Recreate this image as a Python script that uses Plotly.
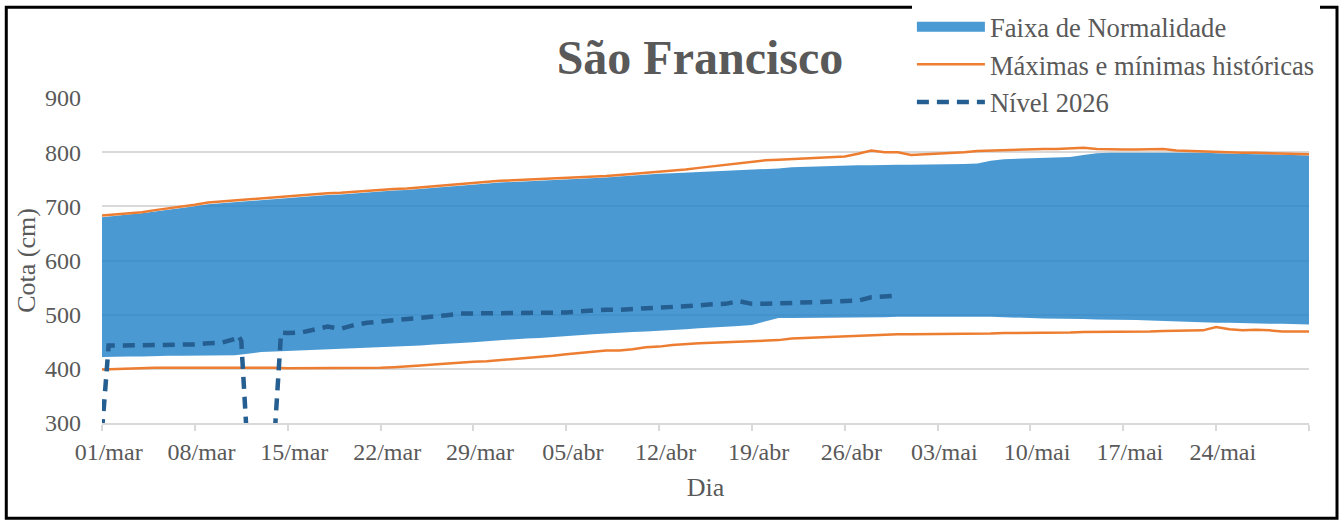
import plotly.graph_objects as go
import pandas as pd

# ---------------- data ----------------
dias = pd.date_range("2026-03-01", "2026-05-31", freq="D")

normal_max = [680, 683, 685, 687, 690, 693, 697, 700, 704, 706,
              708, 710, 712, 714, 716, 718, 720, 721, 722, 724,
              725, 727, 729, 730, 732, 735, 737, 738, 740, 742,
              744, 745, 746, 747, 748, 749, 750, 752, 753, 755,
              757, 758, 760, 761, 762, 763, 764, 765, 766, 767,
              769, 770, 772, 773, 774, 775, 775, 776, 776, 777,
              777, 777, 777, 777, 778, 778, 779, 784, 787, 788,
              789, 790, 790, 791, 795, 798, 799, 799, 800, 800,
              800, 800, 800, 799, 798, 797, 797, 796, 796, 795,
              795, 794]

normal_min = [422, 423, 423, 423, 424, 424, 424, 424, 424, 424,
              425, 428, 431, 432, 433, 433, 434, 435, 436, 437,
              438, 439, 440, 442, 443, 445, 446, 448, 449, 451,
              453, 454, 456, 457, 459, 460, 462, 464, 465, 467,
              468, 469, 470, 472, 473, 475, 476, 478, 479, 481,
              488, 494, 494, 494, 495, 495, 495, 495, 495, 495,
              496, 496, 496, 497, 497, 497, 496, 496, 495, 495,
              494, 493, 493, 492, 492, 491, 491, 490, 490, 489,
              488, 487, 486, 486, 485, 485, 484, 484, 483, 483,
              482, 482]

hist_max = [683, 685, 687, 689, 693, 696, 700, 703, 707, 709,
            710, 712, 714, 717, 719, 721, 723, 724, 725, 727,
            728, 730, 732, 733, 735, 738, 740, 741, 743, 745,
            747, 748, 749, 750, 751, 752, 753, 755, 756, 758,
            760, 761, 763, 766, 768, 771, 774, 777, 779, 782,
            785, 786, 787, 789, 790, 791, 792, 797, 803, 800,
            800, 795, 796, 797, 798, 800, 802, 803, 803, 804,
            805, 806, 806, 807, 808, 806, 805, 805, 805, 806,
            806, 803, 802, 801, 800, 800, 799, 799, 798, 797,
            796, 796]

hist_min = [399, 400, 401, 401, 402, 402, 402, 403, 403, 402,
            402, 402, 402, 402, 401, 401, 401, 401, 401, 401,
            401, 402, 403, 404, 406, 408, 410, 411, 413, 414,
            416, 417, 419, 421, 424, 427, 429, 432, 434, 434,
            436, 440, 441, 444, 446, 447, 448, 449, 450, 451,
            453, 453, 456, 457, 458, 459, 460, 461, 463, 464,
            464, 464, 464, 464, 464, 465, 465, 465, 466, 466,
            466, 466, 467, 467, 468, 468, 468, 469, 469, 469,
            470, 470, 470, 471, 477, 473, 471, 472, 471, 469,
            469, 469]

nivel_datas = ["2026-03-01 00:00", "2026-03-01 12:00", "2026-03-02", "2026-03-03",
               "2026-03-04", "2026-03-05", "2026-03-06", "2026-03-07", "2026-03-08",
               "2026-03-09", "2026-03-10", "2026-03-11 00:00", "2026-03-11 06:00",
               "2026-03-11 12:00", "2026-03-12", "2026-03-13", "2026-03-14 00:00",
               "2026-03-14 12:00", "2026-03-15", "2026-03-16", "2026-03-17",
               "2026-03-18", "2026-03-19", "2026-03-20", "2026-03-21", "2026-03-22",
               "2026-03-23", "2026-03-24", "2026-03-25", "2026-03-26", "2026-03-27",
               "2026-03-28", "2026-03-29", "2026-03-30", "2026-03-31", "2026-04-01",
               "2026-04-02", "2026-04-03", "2026-04-04", "2026-04-05", "2026-04-06",
               "2026-04-07", "2026-04-08", "2026-04-09", "2026-04-10", "2026-04-11",
               "2026-04-12", "2026-04-13", "2026-04-14", "2026-04-15", "2026-04-16",
               "2026-04-17", "2026-04-18", "2026-04-19", "2026-04-20", "2026-04-21",
               "2026-04-22", "2026-04-23", "2026-04-24", "2026-04-25", "2026-04-26",
               "2026-04-27", "2026-04-28", "2026-04-29", "2026-04-30"]
nivel_cota = [285, 443, 443, 443,
              443, 443, 443, 444, 445,
              447, 448, 455, 462,
              452, 240, 245, 272,
              467, 466, 467, 473,
              478, 474, 481, 485, 487,
              489, 491, 493, 496, 499,
              502, 502, 502, 502, 502,
              503, 504, 504, 504, 506,
              508, 509, 509, 510, 511,
              512, 513, 515, 517, 519,
              520, 525, 520, 520, 521,
              522, 524, 525, 525, 525,
              526, 532, 533, 535]

tick_datas = pd.date_range("2026-03-01", "2026-05-31", freq="7D")
tick_rotulos = ["01/mar", "08/mar", "15/mar", "22/mar", "29/mar", "05/abr", "12/abr",
                "19/abr", "26/abr", "03/mai", "10/mai", "17/mai", "24/mai", ""]

# ---------------- style ----------------
FONT = "Liberation Serif, Times New Roman, serif"
GRAY = "#595959"
GRID = "#D9D9D9"
BAND = "rgba(34,131,200,0.82)"
BAND_SOLID = "#4A9AD3"

fig = go.Figure()
# legend entry for the band (thick swatch)
fig.add_trace(go.Scatter(x=[None], y=[None], mode="lines",
                         line=dict(color=BAND_SOLID, width=14),
                         name="Faixa de Normalidade", hoverinfo="skip"))
fig.add_trace(go.Scatter(x=dias, y=normal_min, mode="lines", line=dict(width=0),
                         showlegend=False, hoverinfo="skip"))
fig.add_trace(go.Scatter(x=dias, y=normal_max, mode="lines", line=dict(width=0),
                         fill="tonexty", fillcolor=BAND,
                         name="Faixa de Normalidade", showlegend=False))
fig.add_trace(go.Scatter(x=dias, y=hist_max, mode="lines",
                         line=dict(color="#ED7D31", width=2.5),
                         name="Máximas e mínimas históricas", legendgroup="hist"))
fig.add_trace(go.Scatter(x=dias, y=hist_min, mode="lines",
                         line=dict(color="#ED7D31", width=2.5),
                         showlegend=False, legendgroup="hist"))
fig.add_trace(go.Scatter(x=pd.to_datetime(nivel_datas, format="ISO8601"), y=nivel_cota,
                         mode="lines",
                         line=dict(color="#255E91", width=4.5, dash="12px,8px"),
                         name="Nível 2026"))

fig.update_layout(
    width=1341, height=522,
    margin=dict(l=102, r=32, t=98, b=99, autoexpand=False),
    paper_bgcolor="white", plot_bgcolor="white",
    font=dict(family=FONT, color=GRAY),
    title=dict(text="<b>São Francisco</b>", x=0.522, xanchor="center",
               y=1 - 57 / 522, yanchor="middle",
               font=dict(family=FONT, size=48, color=GRAY)),
    legend=dict(x=0.671, xanchor="left", y=1 - 3 / 522, yref="container", yanchor="top",
                bgcolor="white", borderwidth=0, itemwidth=68,
                font=dict(family=FONT, size=26.6, color=GRAY), tracegroupgap=0),
    showlegend=True,
)

# labels sit half a day to the right of their tick marks (as in the source chart)
rotulo_pos = tick_datas + pd.Timedelta(hours=12)
fig.update_xaxes(type="date", range=[dias[0], dias[-1]],
                 tickvals=rotulo_pos, ticktext=tick_rotulos, ticks="",
                 minor=dict(tickvals=tick_datas, ticks="outside", ticklen=6,
                            tickcolor=GRID, tickwidth=1.5, showgrid=False),
                 showline=True, linecolor=GRID, linewidth=1.5, showgrid=False,
                 tickfont=dict(family=FONT, size=24, color=GRAY),
                 ticklabelstandoff=6,
                 title=dict(text="Dia", font=dict(family=FONT, size=26, color=GRAY), standoff=14))
fig.update_yaxes(range=[300, 900], dtick=100, showgrid=True, gridcolor=GRID, gridwidth=1.5,
                 zeroline=False, showline=False,
                 tickfont=dict(family=FONT, size=24, color=GRAY),
                 ticklabelstandoff=20,
                 title=dict(text="Cota (cm)", font=dict(family=FONT, size=26, color=GRAY), standoff=1))

# outer frame of the chart
fig.add_shape(type="rect", xref="paper", yref="paper",
              x0=-0.0793, x1=1.0232, y0=-0.293, y1=1.279,
              line=dict(color="black", width=3), fillcolor="rgba(0,0,0,0)", layer="above")

fig.write_html("out.html", config={"displayModeBar": False},
               post_script="document.body.style.margin='0';document.body.style.overflow='hidden';")
